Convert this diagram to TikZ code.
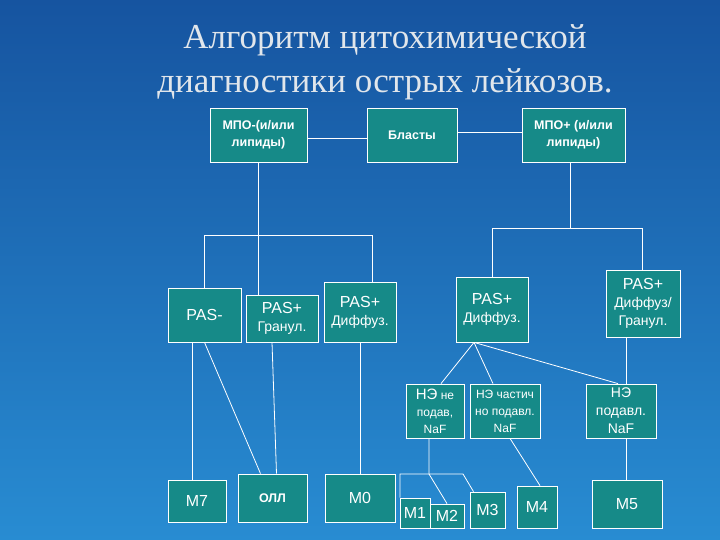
\documentclass[tikz,border=0pt]{standalone}
\usepackage{fontspec}
\usetikzlibrary{calc}
\setmainfont{Liberation Serif}
\newfontfamily\boxfont{Liberation Sans}
\begin{document}
\begin{tikzpicture}[x=1pt,y=-1pt,
  box/.style={draw=white, line width=0.8pt, fill={rgb,255:red,22;green,138;blue,136}, text=white, inner sep=0pt, align=center, font=\boxfont\fontsize{14}{18}\selectfont},
  bbox/.style={box, font=\boxfont\bfseries\fontsize{12.5}{17}\selectfont},
  sbox/.style={box, font=\boxfont\fontsize{12}{17}\selectfont},
  big/.style={font=\boxfont\fontsize{16}{18}\selectfont},
  ln/.style={draw=white, line width=0.8pt}]
\shade[top color={rgb,255:red,22;green,84;blue,160}, bottom color={rgb,255:red,40;green,140;blue,210}] (0,0) rectangle (720,540);
\useasboundingbox (0,0) rectangle (720,540);
\node[text={rgb,255:red,225;green,230;blue,235}, align=center, font=\fontsize{35}{44}\selectfont] (title) at (385,62) {Алгоритм цитохимической\\диагностики острых лейкозов.};
% top row
\node[bbox, minimum width=97, minimum height=54] (mm) at (258.5,135) {МПО-(и/или\\липиды)};
\node[bbox, minimum width=90, minimum height=54] (bl) at (412,135) {Бласты};
\node[bbox, minimum width=103, minimum height=54] (mp) at (573.5,135) {МПО+ (и/или\\липиды)};
% second row
\node[box, big, minimum width=73, minimum height=54] (pm) at (204.5,315) {PAS-};
\node[box, minimum width=72, minimum height=47] (pg) at (282,318.5) {{\fontsize{16}{18}\selectfont PAS+}\\Гранул.};
\node[box, minimum width=72, minimum height=60] (pd) at (360,312) {{\fontsize{16}{18}\selectfont PAS+}\\Диффуз.};
\node[box, minimum width=72, minimum height=65] (pd2) at (492,309.5) {{\fontsize{16}{18}\selectfont PAS+}\\Диффуз.};
\node[box, minimum width=74, minimum height=67] (pdg) at (643,303.5) {{\fontsize{16}{18}\selectfont PAS+}\\Диффуз/\\Гранул.};
% third row
\node[sbox, minimum width=58, minimum height=54] (n1) at (435,411) {{\fontsize{15}{17}\selectfont НЭ} не\\подав,\\NaF};
\node[sbox, minimum width=70, minimum height=54] (n2) at (505,411) {НЭ частич\\но подавл.\\NaF};
\node[box, minimum width=70, minimum height=54] (n3) at (621,411) {НЭ\\подавл.\\NaF};
% bottom row
\node[box, big, minimum width=58, minimum height=42] (m7) at (197,501) {М7};
\node[bbox, minimum width=69, minimum height=48] (oll) at (272.5,498) {ОЛЛ};
\node[box, big, minimum width=70, minimum height=48] (m0) at (360,498) {М0};
\node[box, big, minimum width=30, minimum height=30] (m1) at (415,513) {М1};
\node[box, big, minimum width=34, minimum height=24] (m2) at (447,516) {М2};
\node[box, big, minimum width=35, minimum height=36] (m3) at (487.5,510) {М3};
\node[box, big, minimum width=40, minimum height=42] (m4) at (537,507) {М4};
\node[box, big, minimum width=70, minimum height=48] (m5) at (627,504) {М5};
% coordinates
\coordinate (lb) at (258,235);
\coordinate (lbl) at (204,235);
\coordinate (lbr) at (372,235);
\coordinate (rb) at (570,228);
\coordinate (rbl) at (492,228);
\coordinate (rbr) at (642,228);
\coordinate (j1) at (429,474);
\coordinate (k1) at (400,474);
\coordinate (k2) at (463,474);
\coordinate (x192) at (192,0);
\coordinate (x626) at (626,0);
% connectors
\draw[ln] (mm.east |- 0,138) -- (bl.west |- 0,138);
\draw[ln] (bl.east |- 0,132) -- (mp.west |- 0,132);
\draw[ln] (mm.south -| lb) -- (pg.north -| lb);
\draw[ln] (pm.north -| lbl) -- (lbl) -- (lbr) -- (pd.north -| lbr);
\draw[ln] (mp.south -| rb) -- (rb);
\draw[ln] (pd2.north -| rbl) -- (rbl) -- (rbr) -- (pdg.north -| rbr);
\draw[ln] (pm.south -| x192) -- (m7.north -| x192);
\draw[ln] (pm.south) -- ($(oll.north)+(-12,0)$);
\draw[ln] ($(pg.south)+(-10,0)$) -- ($(oll.north)+(4,0)$);
\draw[ln] (pd.south) -- (m0.north);
\draw[ln] ($(pd2.south)+(-18,0)$) -- ($(n1.north)+(6,0)$);
\draw[ln] ($(pd2.south)+(-18,0)$) -- ($(n2.north)+(-12,0)$);
\draw[ln] ($(pd2.south)+(-18,0)$) -- ($(n3.north)+(-3,0)$);
\draw[ln] (pdg.south -| x626) -- (n3.north -| x626);
\draw[ln] (n3.south -| x626) -- (m5.north -| x626);
\draw[ln] (n1.south -| j1) -- (j1) -- (m2.north);
\draw[ln] (m1.north -| k1) -- (k1) -- (k2) -- ($(m3.north)+(-14,0)$);
\draw[ln] ($(n2.south)+(5,0)$) -- ($(m4.north)+(3,0)$);
\end{tikzpicture}
\end{document}
